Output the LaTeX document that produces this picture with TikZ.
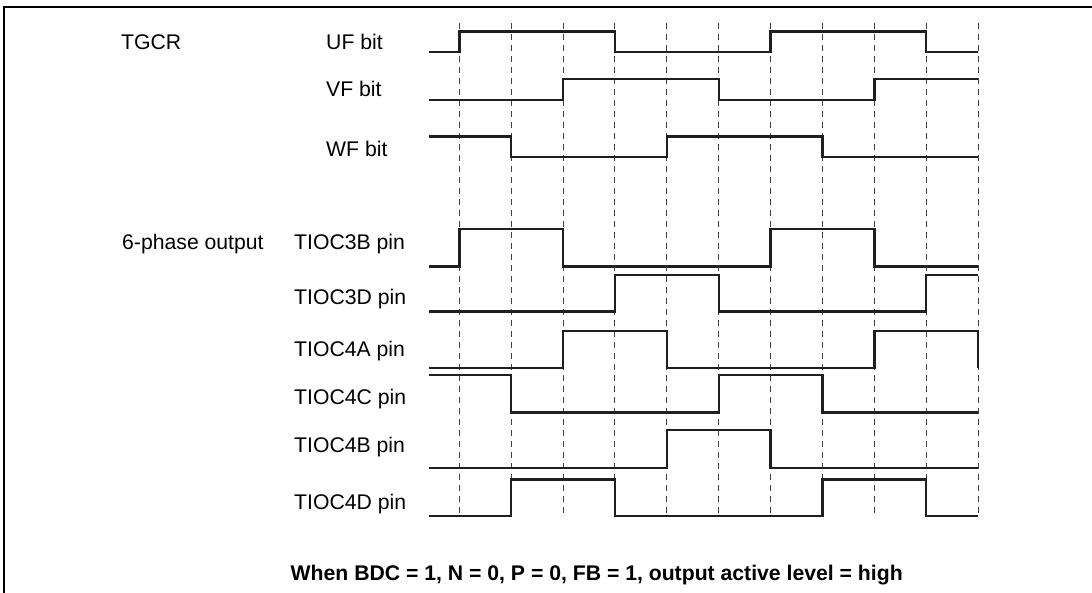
\documentclass[tikz,border=0pt]{standalone}
\usepackage{fontspec}
\setmainfont{Liberation Sans}
\begin{document}
\begin{tikzpicture}[x=1pt,y=-1pt,
  lbl/.style={anchor=base west,inner sep=0pt,font=\fontsize{21.2}{25}\selectfont},
  captxt/.style={anchor=base west,inner sep=0pt,font=\fontsize{21.2}{25}\selectfont\bfseries},
  wave/.style={line width=2.4pt,color=black!88,line join=miter},
  gridline/.style={line width=0.9pt,color=black!75,dash pattern=on 6pt off 5pt},
  framelines/.style={line width=2.2pt,color=black}]
\useasboundingbox (0,0) rectangle (1092,593);
% frame
\draw[framelines] (4,593) -- (4,7) -- (1092,7);
% dashed time markers
\foreach \x in {459.3,511.2,563.0,614.9,666.8,718.7,770.5,822.4,874.3,926.1,978.0}
  \draw[gridline] (\x,23) -- (\x,516);
% labels
\node[lbl] (tgcr) at (121,50) {TGCR};
\node[lbl] (uf) at (326,50) {UF bit};
\node[lbl] (vf) at (326,97) {VF bit};
\node[lbl] (wf) at (326,157) {WF bit};
\node[lbl] (six) at (122,250) {6-phase output};
\node[lbl] (p3b) at (294,250) {TIOC3B pin};
\node[lbl] (p3d) at (294,305) {TIOC3D pin};
\node[lbl] (p4a) at (294,357) {TIOC4A pin};
\node[lbl] (p4c) at (294,404) {TIOC4C pin};
\node[lbl] (p4b) at (294,452) {TIOC4B pin};
\node[lbl] (p4d) at (294,509) {TIOC4D pin};
\node[captxt] (caption) at (290.5,580) {When BDC = 1, N = 0, P = 0, FB = 1, output active level = high};
% waveforms
% UF
\draw[wave] (429,52.3) -| (459.3,31.7) -| (614.9,52.3) -| (770.5,31.7) -| (926.1,52.3) -- (978,52.3);
% VF
\draw[wave] (429,100) -| (563.0,79.3) -| (718.7,100) -| (874.3,79.3) -- (978,79.3);
% WF
\draw[wave] (429,136.7) -| (511.2,157.3) -| (666.8,136.7) -| (822.4,157.3) -- (978,157.3);
% TIOC3B
\draw[wave] (429,266.7) -| (459.3,229.3) -| (563.0,266.7) -| (770.5,229.3) -| (874.3,266.7) -- (978,266.7);
% TIOC3D
\draw[wave] (429,311.7) -| (614.9,275) -| (718.7,311.7) -| (926.1,275) -- (978,275);
% TIOC4A
\draw[wave] (429,368) -| (563.0,331.3) -| (666.8,368) -| (874.3,331.3) -| (978,368);
% TIOC4C
\draw[wave] (429,375) -| (511.2,412.3) -| (718.7,375) -| (822.4,412.3) -- (978,412.3);
% TIOC4B
\draw[wave] (429,467.7) -| (666.8,430) -| (770.5,467.7) -- (978,467.7);
% TIOC4D
\draw[wave] (429,516) -| (511.2,479.3) -| (614.9,516) -| (822.4,479.3) -| (926.1,516) -- (978,516);
\end{tikzpicture}
\end{document}
